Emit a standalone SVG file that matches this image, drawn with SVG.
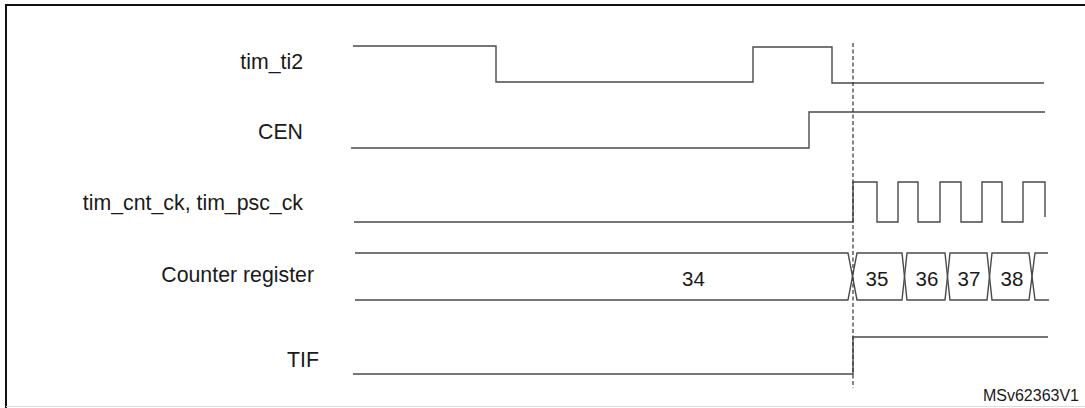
<svg xmlns="http://www.w3.org/2000/svg" width="1085" height="408" viewBox="0 0 1085 408">
<style>
.lbl{font-family:"Liberation Sans",Arial,sans-serif;font-size:21.3px;fill:#1a1a1a;text-anchor:end}
.val{font-family:"Liberation Sans",Arial,sans-serif;font-size:20.5px;fill:#1a1a1a;text-anchor:middle}
.wave{fill:none;stroke:#4a4a4a;stroke-width:1.4;stroke-linejoin:miter}
.marker{fill:none;stroke:#333;stroke-width:1.2;stroke-dasharray:4,2.5}
</style>
<rect width="1085" height="408" fill="#fff"/>
<path d="M6,408 V5 H1085" fill="none" stroke="#111" stroke-width="2"/>
<line x1="6" y1="406.5" x2="1085" y2="406.5" stroke="#ddd" stroke-width="1"/>

<g id="tim_ti2">
<text class="lbl" x="303" y="69">tim_ti2</text>
<path class="wave" d="M353,46 H496 V82 H753 V47 H832 V83 H1044"/>
</g>

<g id="cen">
<text class="lbl" x="303" y="139">CEN</text>
<path class="wave" d="M351,148 H809 V112 H1045"/>
</g>

<g id="clock">
<text class="lbl" x="303" y="210">tim_cnt_ck, tim_psc_ck</text>
<path class="wave" d="M354,222 H853 V182 H877 V222 H898 V182 H918 V222 H940 V182 H961 V222 H982 V182 H1002 V222 H1023 V182 H1045 V217"/>
</g>

<g id="counter">
<text class="lbl" x="314" y="282">Counter register</text>
<path class="wave" d="M355,253 H848 L857,300 H902 L907,253 H945 L950,300 H987 L992,253 H1029 L1035,300 H1049"/>
<path class="wave" d="M355,300 H848 L857,253 H902 L907,300 H945 L950,253 H987 L992,300 H1029 L1035,253 H1048"/>
<text class="val" x="693.5" y="286">34</text>
<text class="val" x="877" y="286">35</text>
<text class="val" x="927" y="286">36</text>
<text class="val" x="969" y="286">37</text>
<text class="val" x="1012" y="286">38</text>
</g>

<g id="tif">
<text class="lbl" x="319" y="367">TIF</text>
<path class="wave" d="M353,374 H853 V337 H1048"/>
</g>

<g id="connectors">
<line class="marker" x1="853" y1="43" x2="853" y2="388"/>
</g>

<text x="1079" y="401" font-family="'Liberation Sans',Arial,sans-serif" font-size="16" fill="#1a1a1a" text-anchor="end">MSv62363V1</text>
</svg>
